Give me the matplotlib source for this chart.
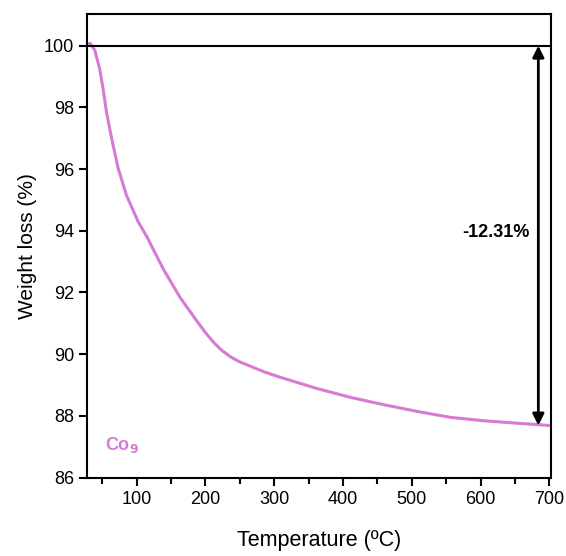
import matplotlib.pyplot as plt
import numpy as np

plt.rcParams['font.family'] = ['Liberation Sans', 'DejaVu Sans']

# TGA curve of the Co9 sample
temperature = [30, 32, 39, 46, 51, 56, 63.5, 73, 85, 102, 115, 127, 139, 163, 188,
               200, 212, 224, 236, 248, 261, 285, 309, 334, 360, 411, 460, 509,
               557, 606, 655, 700]
weight = [100.05, 100.08, 99.86, 99.27, 98.62, 97.86, 97.0, 96.03, 95.16, 94.3,
          93.8, 93.27, 92.75, 91.84, 91.06, 90.7, 90.38, 90.12, 89.92, 89.77,
          89.65, 89.43, 89.25, 89.08, 88.9, 88.6, 88.36, 88.14, 87.95, 87.84,
          87.76, 87.69]
total_loss = -12.31
curve_color = '#d77ad6'

fig = plt.figure(figsize=(5.66, 5.56), dpi=100)
ax = fig.add_axes([0.154, 0.141, 0.819, 0.834])

ax.plot(temperature, weight, color=curve_color, linewidth=2.2,
        solid_joinstyle='round', solid_capstyle='round')

# reference line at 100 % and total loss arrow
ax.axhline(100, color='black', linewidth=1.5)
ax.annotate('', xy=(684, 100 + total_loss), xytext=(684, 100),
            arrowprops=dict(arrowstyle='<|-|>', color='black', lw=2,
                            mutation_scale=17, shrinkA=0, shrinkB=0))
ax.text(622, 93.95, f'{total_loss:.2f}%', fontsize=13, fontweight='bold',
        ha='center', va='center')
ax.text(54, 87.05, r'Co$_{\mathbf{9}}$', color=curve_color, fontsize=13,
        fontweight='bold', ha='left', va='center')

ax.set_xlim(28, 702)
ax.set_ylim(86, 101.03)
ax.set_xticks(np.arange(100, 701, 100))
ax.set_xticks(np.arange(50, 701, 100), minor=True)
ax.set_yticks(np.arange(86, 101, 2))

ax.set_xlabel('Temperature (ºC)', fontsize=15.5, labelpad=16)
ax.set_ylabel('Weight loss (%)', fontsize=15, labelpad=5)

for s in ax.spines.values():
    s.set_linewidth(1.5)
ax.tick_params(axis='both', which='major', direction='out', length=6, width=1.5,
               labelsize=13)
ax.tick_params(axis='x', which='minor', direction='out', length=4, width=1.5)

fig.savefig('out.png', dpi=100)
